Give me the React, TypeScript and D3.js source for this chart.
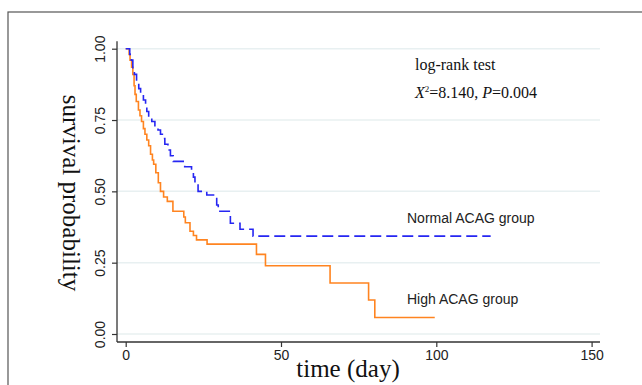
import React, { useEffect, useRef } from 'react';
import * as d3 from 'd3';

// Kaplan-Meier steps (time in days, survival probability)
const normalTime = [0, 1.3, 1.8, 2.3, 2.8, 3.5, 4.2, 4.8, 5.7, 6.4, 6.8, 7.4, 8.4, 9.4, 10.4, 11.2, 11.8, 12.6, 13.6, 14.4, 15.3, 19.0, 21.2, 21.8, 22.3, 23.3, 26.1, 29.3, 29.8, 33.7, 36.8, 41.0, 117.5];
const normalSurv = [1, 0.98, 0.96, 0.93, 0.91, 0.88, 0.86, 0.845, 0.82, 0.8, 0.78, 0.76, 0.745, 0.73, 0.715, 0.7, 0.685, 0.665, 0.645, 0.625, 0.605, 0.586, 0.572, 0.55, 0.528, 0.5, 0.487, 0.452, 0.43, 0.388, 0.367, 0.343, 0.343];

const highTime = [0, 1.1, 1.4, 1.9, 2.3, 2.7, 3.0, 3.4, 4.1, 4.6, 5.1, 5.7, 6.2, 6.8, 7.4, 8.0, 8.6, 9.0, 9.7, 10.5, 11.2, 12.2, 13.4, 15.2, 18.7, 19.2, 20.7, 21.8, 22.8, 26.2, 42.1, 45.0, 65.8, 78.2, 80.2, 99.5];
const highSurv = [1, 0.98, 0.96, 0.935, 0.91, 0.87, 0.84, 0.815, 0.785, 0.765, 0.745, 0.72, 0.7, 0.68, 0.66, 0.63, 0.61, 0.595, 0.565, 0.53, 0.5, 0.48, 0.465, 0.43, 0.41, 0.39, 0.36, 0.345, 0.33, 0.315, 0.279, 0.239, 0.179, 0.119, 0.058, 0.058];

const xTicks = [0, 50, 100, 150];
const yTicks = [0, 0.25, 0.5, 0.75, 1];

const W = 642;
const H = 385;

const x = d3.scaleLinear().domain([0, 150]).range([125.7, 591.6]);
const y = d3.scaleLinear().domain([0, 1]).range([334, 48.7]);
const xExt = [-2.8, 152.7];
const yExt = [-0.028, 1.026];

const line = d3
  .line<[number, number]>()
  .x((d) => x(d[0]))
  .y((d) => y(d[1]))
  .curve(d3.curveStepAfter);

const normalPts = normalTime.map((t, i) => [t, normalSurv[i]] as [number, number]);
const highPts = highTime.map((t, i) => [t, highSurv[i]] as [number, number]);

const serif = '"Liberation Serif", "Times New Roman", serif';
const sans = 'Arial, "Liberation Sans", sans-serif';

const App = () => {
  const xAxisRef = useRef<SVGGElement>(null);
  const yAxisRef = useRef<SVGGElement>(null);

  useEffect(() => {
    const gx = d3.select(xAxisRef.current);
    gx.selectAll('*').remove();
    gx.call(d3.axisBottom(x).tickValues(xTicks).tickSize(5).tickPadding(3).tickFormat(d3.format('d')));
    gx.select('.domain').remove();
    gx.selectAll('.tick line').attr('stroke', '#333').attr('stroke-width', 1.2);
    gx.selectAll('.tick text')
      .attr('fill', '#222')
      .style('font-family', sans)
      .style('font-size', '14px');

    const gy = d3.select(yAxisRef.current);
    gy.selectAll('*').remove();
    gy.call(d3.axisLeft(y).tickValues(yTicks).tickSize(5).tickFormat(d3.format('.2f')));
    gy.select('.domain').remove();
    gy.selectAll('.tick line').attr('stroke', '#333').attr('stroke-width', 1.2);
    gy.selectAll('.tick text')
      .attr('fill', '#222')
      .attr('x', 0)
      .attr('y', 0)
      .attr('dy', '0.35em')
      .attr('text-anchor', 'middle')
      .attr('transform', 'translate(-17,0) rotate(-90)')
      .style('font-family', sans)
      .style('font-size', '14px');
  }, []);

  const axisY = y(yExt[0]);
  const axisX = x(xExt[0]);

  return (
    <div style={{ position: 'fixed', left: 0, top: 0 }}>
      <svg width={W} height={H} style={{ display: 'block', background: '#fff' }}>
        <rect x={8} y={12} width={W + 20} height={H + 20} fill="none" stroke="#555" strokeWidth={1.2} />

        {yTicks.map((t) => (
          <line key={t} x1={axisX} x2={x(xExt[1])} y1={y(t)} y2={y(t)} stroke="#e8f0f1" strokeWidth={1.5} />
        ))}

        <line x1={axisX} x2={x(xExt[1])} y1={axisY} y2={axisY} stroke="#333" strokeWidth={1.3} />
        <line x1={axisX} x2={axisX} y1={axisY} y2={y(yExt[1])} stroke="#333" strokeWidth={1.3} />

        <g ref={xAxisRef} transform={`translate(0,${axisY})`} />
        <g ref={yAxisRef} transform={`translate(${axisX},0)`} />

        <path d={line(highPts) || ''} fill="none" stroke="#ff8420" strokeWidth={1.6} />
        <path d={line(normalPts) || ''} fill="none" stroke="#2626f2" strokeWidth={1.6} strokeDasharray="11,5" />

        <text x={63} y={193} transform="rotate(90,63,193)" textAnchor="middle"
          style={{ fontFamily: serif, fontSize: 25 }} fill="#111">
          survival probability
        </text>
        <text x={348} y={377} textAnchor="middle" style={{ fontFamily: serif, fontSize: 25 }} fill="#111">
          time (day)
        </text>

        <text x={415} y={70} style={{ fontFamily: serif, fontSize: 16 }} fill="#111">
          log-rank test
        </text>
        <text x={415} y={98} style={{ fontFamily: serif, fontSize: 16 }} fill="#111">
          <tspan fontStyle="italic">X</tspan>
          <tspan fontSize={9} dy={-6}>2</tspan>
          <tspan dy={6}>=8.140, </tspan>
          <tspan fontStyle="italic">P</tspan>
          <tspan>=0.004</tspan>
        </text>

        <text x={407} y={223} style={{ fontFamily: sans, fontSize: 14 }} fill="#222">
          Normal ACAG group
        </text>
        <text x={407} y={304} style={{ fontFamily: sans, fontSize: 14 }} fill="#222">
          High ACAG group
        </text>
      </svg>
    </div>
  );
};

export default App;
